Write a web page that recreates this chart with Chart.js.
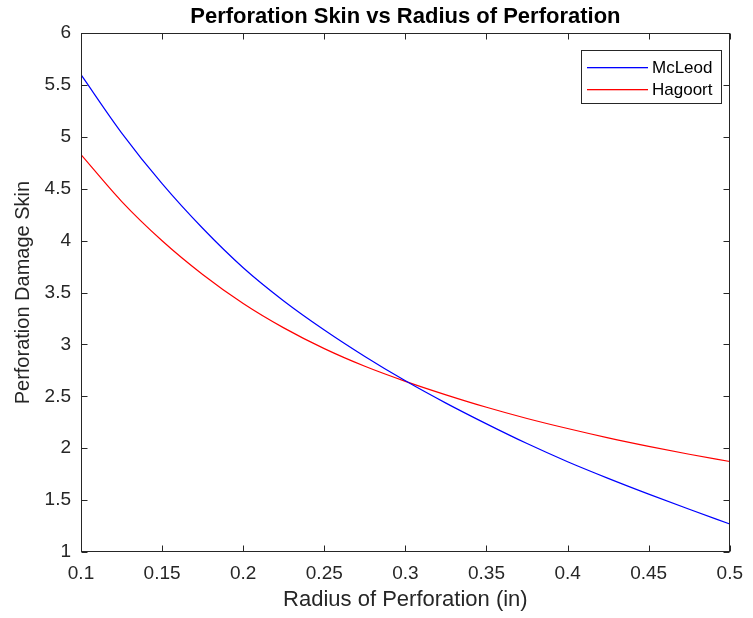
<!DOCTYPE html>
<html>
<head>
<meta charset="utf-8">
<script src="https://cdn.jsdelivr.net/npm/chart.js@4/dist/chart.umd.min.js"></script>
<style>
  html, body { margin: 0; padding: 0; background: #ffffff; }
  #wrap { width: 753px; height: 618px; position: relative; }
</style>
</head>
<body>
<div id="wrap"><canvas id="c" width="753" height="618"></canvas></div>
<script>
// ---- Data ----
const radius = [0.100, 0.125, 0.150, 0.175, 0.200, 0.225, 0.250, 0.275, 0.300,
                0.325, 0.350, 0.375, 0.400, 0.425, 0.450, 0.475, 0.500];
const mcleod = [5.60, 5.04, 4.55, 4.12, 3.74, 3.42, 3.14, 2.885, 2.65,
                2.435, 2.235, 2.045, 1.87, 1.71, 1.558, 1.412, 1.27];
const hagoort = [4.83, 4.38, 4.00, 3.675, 3.395, 3.16, 2.96, 2.79, 2.645,
                 2.515, 2.395, 2.287, 2.19, 2.10, 2.018, 1.942, 1.872];
const seriesNames = ['McLeod', 'Hagoort'];
const seriesColors = ['rgb(0,0,255)', 'rgb(255,0,0)'];
const xTicks = [0.1, 0.15, 0.2, 0.25, 0.3, 0.35, 0.4, 0.45, 0.5];
const yTicks = [1, 1.5, 2, 2.5, 3, 3.5, 4, 4.5, 5, 5.5, 6];
const titleText = 'Perforation Skin vs Radius of Perforation';
const xTitle = 'Radius of Perforation (in)';
const yTitle = 'Perforation Damage Skin';

const AX = '#262626';
const FONT = "'Liberation Sans', Arial, sans-serif";

const toPts = (xs, ys) => xs.map((x, i) => ({ x: x, y: ys[i] }));

const boxPlugin = {
  id: 'matlabBox',
  afterDraw(chart) {
    const { ctx, chartArea: a, scales } = chart;
    ctx.save();
    ctx.strokeStyle = AX;
    ctx.lineWidth = 1;
    const L = Math.round(a.left) + 0.5, R = Math.round(a.right) - 0.5;
    const T = Math.round(a.top) + 0.5, B = Math.round(a.bottom) - 0.5;
    ctx.strokeRect(L, T, R - L, B - T);
    const tl = 6;
    ctx.beginPath();
    xTicks.forEach(v => {
      const px = Math.round(scales.x.getPixelForValue(v)) + 0.5;
      ctx.moveTo(px, B); ctx.lineTo(px, B - tl);
      ctx.moveTo(px, T); ctx.lineTo(px, T + tl);
    });
    yTicks.forEach(v => {
      const py = Math.round(scales.y.getPixelForValue(v)) + 0.5;
      ctx.moveTo(L, py); ctx.lineTo(L + tl, py);
      ctx.moveTo(R, py); ctx.lineTo(R - tl, py);
    });
    ctx.stroke();
    ctx.restore();

    // legend box (inside the plot, top right)
    ctx.save();
    const lx = 581, ly = 50, lw = 141, lh = 54;
    ctx.fillStyle = '#ffffff';
    ctx.fillRect(lx, ly, lw, lh);
    ctx.strokeStyle = AX;
    ctx.lineWidth = 1;
    ctx.strokeRect(lx + 0.5, ly + 0.5, lw - 1, lh - 1);
    const rows = [67, 89];
    for (let i = 0; i < seriesNames.length; i++) {
      ctx.fillStyle = seriesColors[i];
      ctx.fillRect(587, rows[i], 61, 1.3);
    }
    ctx.fillStyle = '#000000';
    ctx.font = "17px " + FONT;
    ctx.textBaseline = 'middle';
    ctx.textAlign = 'left';
    for (let i = 0; i < seriesNames.length; i++) {
      ctx.fillText(seriesNames[i], 652, rows[i] + 1);
    }
    ctx.restore();
  }
};

new Chart(document.getElementById('c'), {
  type: 'line',
  data: {
    datasets: [
      { label: seriesNames[0], data: toPts(radius, mcleod), borderColor: seriesColors[0],
        borderWidth: 1.2, pointRadius: 0, fill: false, cubicInterpolationMode: 'monotone' },
      { label: seriesNames[1], data: toPts(radius, hagoort), borderColor: seriesColors[1],
        borderWidth: 1.2, pointRadius: 0, fill: false, cubicInterpolationMode: 'monotone' }
    ]
  },
  options: {
    responsive: false,
    animation: false,
    events: [],
    layout: { padding: { top: 0, right: 15, left: 0, bottom: 0 } },
    plugins: {
      legend: { display: false },
      tooltip: { enabled: false },
      title: {
        display: true, text: titleText, fullSize: false,
        color: '#000000',
        font: { family: FONT, size: 22, weight: 'bold', lineHeight: 1.1 },
        padding: { top: 5, bottom: 4 }
      }
    },
    scales: {
      x: {
        type: 'linear', min: 0.1, max: 0.5,
        afterBuildTicks: s => { s.ticks = xTicks.map(v => ({ value: v })); },
        afterFit: s => { s.height = 66; },
        grid: { display: false, drawTicks: false },
        border: { display: false },
        ticks: {
          color: AX, padding: 10, maxRotation: 0, autoSkip: false,
          font: { family: FONT, size: 19 },
          callback: v => String(parseFloat(Number(v).toFixed(2)))
        },
        title: {
          display: true, text: xTitle, color: AX,
          font: { family: FONT, size: 22, lineHeight: 1.2 },
          padding: { top: 0, bottom: 5 }
        }
      },
      y: {
        type: 'linear', min: 1, max: 6,
        afterBuildTicks: s => { s.ticks = yTicks.map(v => ({ value: v })); },
        afterFit: s => { s.width = 81; },
        grid: { display: false, drawTicks: false },
        border: { display: false },
        ticks: {
          color: AX, padding: 10, autoSkip: false,
          font: { family: FONT, size: 19 },
          callback: v => String(parseFloat(Number(v).toFixed(2)))
        },
        title: {
          display: true, text: yTitle, color: AX,
          font: { family: FONT, size: 20, lineHeight: 1.2 },
          padding: { top: 11, bottom: 0 }
        }
      }
    }
  },
  plugins: [boxPlugin]
});
</script>
</body>
</html>
